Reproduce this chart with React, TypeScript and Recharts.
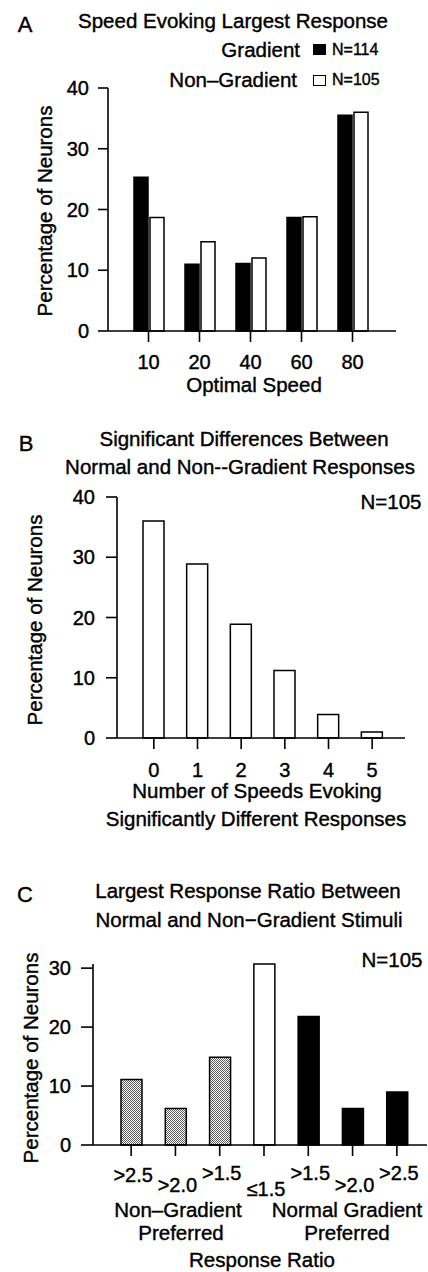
import React from 'react';
import { BarChart, Bar, XAxis, YAxis, Cell } from 'recharts';

const FONT = '"Liberation Sans", Arial, Helvetica, sans-serif';

// Panel A
const speedCategories = ['10', '20', '40', '60', '80'];
const gradientValues = [25.3, 11.0, 11.1, 18.7, 35.5];
const nonGradientValues = [18.7, 14.7, 12.0, 18.8, 36.0];
const speedTicks = [0, 10, 20, 30, 40];

// Panel B
const diffCategories = ['0', '1', '2', '3', '4', '5'];
const diffValues = [36.0, 28.9, 18.9, 11.2, 3.9, 1.0];
const diffTicks = [0, 10, 20, 30, 40];

// Panel C
const ratioIds = ['ng25', 'ng20', 'ng15', 'eq15', 'n15', 'n20', 'n25'];
const ratioLabels = ['>2.5', '>2.0', '>1.5', '≤1.5', '>1.5', '>2.0', '>2.5'];
const ratioValues = [11.1, 6.2, 14.9, 30.7, 21.8, 6.2, 9.0];
const ratioGroups = ['non', 'non', 'non', 'equal', 'normal', 'normal', 'normal'];
const ratioTicks = [0, 10, 20, 30];
const ratioLabelOffsets = [26, 36, 24, 40, 24, 36, 24];

const speedData = speedCategories.map((c, i) => ({
  speed: c,
  gradient: gradientValues[i],
  nonGradient: nonGradientValues[i],
}));
const diffData = diffCategories.map((c, i) => ({ n: c, value: diffValues[i] }));
const ratioData = ratioIds.map((id, i) => ({ id, value: ratioValues[i], group: ratioGroups[i] }));

const groupFill: Record<string, string> = {
  non: 'url(#stipple)',
  equal: '#ffffff',
  normal: '#000000',
};

type TProps = {
  x: number;
  y: number;
  children: React.ReactNode;
  size?: number;
  anchor?: 'start' | 'middle' | 'end';
  rotate?: boolean;
};

function T({ x, y, children, size = 20.5, anchor = 'middle', rotate = false }: TProps) {
  const tx = anchor === 'middle' ? '-50%' : anchor === 'end' ? '-100%' : '0';
  return (
    <div
      style={{
        position: 'absolute',
        left: x,
        top: y,
        transform: `translate(${tx}, -50%)${rotate ? ' rotate(-90deg)' : ''}`,
        fontFamily: FONT,
        fontSize: size,
        lineHeight: 1,
        whiteSpace: 'nowrap',
        color: '#000',
        WebkitTextStroke: '0.4px #000',
      }}
    >
      {children}
    </div>
  );
}

const axisStroke = { stroke: '#000', strokeWidth: 1.6 };
const tickStyle = { fill: '#000', fontSize: 20, fontFamily: FONT, stroke: '#000', strokeWidth: 0.4 };

function RatioTick(props: any) {
  const { x, y, payload } = props;
  const idx = ratioIds.indexOf(payload.value);
  return (
    <text
      x={x + 2}
      y={y + ratioLabelOffsets[idx]}
      textAnchor="middle"
      fontSize={20}
      fontFamily={FONT}
      fill="#000"
      stroke="#000"
      strokeWidth={0.4}
    >
      {ratioLabels[idx]}
    </text>
  );
}

export default function App() {
  return (
    <div
      style={{
        position: 'absolute',
        left: 0,
        top: 0,
        width: 428,
        height: 1272,
        background: '#fff',
        overflow: 'hidden',
      }}
    >
      {/* Panel A */}
      <T x={25} y={25} size={22}>A</T>
      <T x={233} y={21}>Speed Evoking Largest Response</T>
      <T x={300} y={50} anchor="end">Gradient</T>
      <div style={{ position: 'absolute', left: 313, top: 44, width: 13, height: 11, background: '#000', border: '1px solid #000', boxSizing: 'border-box' }} />
      <T x={332} y={50} anchor="start" size={16}>N=114</T>
      <T x={297} y={80} anchor="end">Non–Gradient</T>
      <div style={{ position: 'absolute', left: 313, top: 75, width: 13, height: 11, background: '#fff', border: '1.5px solid #000', boxSizing: 'border-box' }} />
      <T x={332} y={80} anchor="start" size={16}>N=105</T>
      <T x={45} y={211} rotate>Percentage of Neurons</T>
      <T x={254} y={385}>Optimal Speed</T>
      <div style={{ position: 'absolute', left: 0, top: 0 }}>
        <BarChart
          width={428}
          height={400}
          data={speedData}
          margin={{ top: 88, right: 32, bottom: 39, left: 48 }}
          barSize={14}
          barGap={2}
        >
          <XAxis
            dataKey="speed"
            axisLine={axisStroke}
            tickLine={axisStroke}
            tickSize={11}
            tickMargin={13}
            tick={tickStyle}
            padding={{ left: 15, right: 18 }}
            interval={0}
            height={30}
          />
          <YAxis
            domain={[0, 40]}
            ticks={speedTicks}
            axisLine={axisStroke}
            tickLine={axisStroke}
            tickSize={10}
            tickMargin={9}
            tick={tickStyle}
            width={60}
            interval={0}
          />
          <Bar dataKey="gradient" fill="#000" stroke="#000" strokeWidth={1.5} isAnimationActive={false} />
          <Bar dataKey="nonGradient" fill="#fff" stroke="#000" strokeWidth={1.5} isAnimationActive={false} />
        </BarChart>
      </div>

      {/* Panel B */}
      <T x={26} y={444} size={22}>B</T>
      <T x={244} y={439}>Significant Differences Between</T>
      <T x={240} y={467}>Normal and Non--Gradient Responses</T>
      <T x={391} y={502}>N=105</T>
      <T x={35} y={620} rotate>Percentage of Neurons</T>
      <T x={257} y={791}>Number of Speeds Evoking</T>
      <T x={256} y={819}>Significantly Different Responses</T>
      <div style={{ position: 'absolute', left: 0, top: 400 }}>
        <BarChart
          width={428}
          height={380}
          data={diffData}
          margin={{ top: 97, right: 23, bottom: 12, left: 57 }}
          barSize={21}
        >
          <XAxis
            dataKey="n"
            axisLine={axisStroke}
            tickLine={axisStroke}
            tickSize={11}
            tickMargin={14}
            tick={tickStyle}
            padding={{ left: 15, right: 11 }}
            interval={0}
            height={30}
          />
          <YAxis
            domain={[0, 40]}
            ticks={diffTicks}
            axisLine={axisStroke}
            tickLine={axisStroke}
            tickSize={11}
            tickMargin={11}
            tick={tickStyle}
            width={60}
            interval={0}
          />
          <Bar dataKey="value" fill="#fff" stroke="#000" strokeWidth={1.5} isAnimationActive={false} />
        </BarChart>
      </div>

      {/* Panel C */}
      <T x={25} y={895} size={22}>C</T>
      <T x={248} y={891}>Largest Response Ratio Between</T>
      <T x={249} y={920}>Normal and Non−Gradient Stimuli</T>
      <T x={392} y={960}>N=105</T>
      <T x={31} y={1058} rotate>Percentage of Neurons</T>
      <T x={178} y={1210}>Non–Gradient</T>
      <T x={181} y={1233}>Preferred</T>
      <T x={347} y={1210}>Normal Gradient</T>
      <T x={347} y={1233}>Preferred</T>
      <T x={262} y={1260}>Response Ratio</T>
      <div style={{ position: 'absolute', left: 0, top: 780 }}>
        <BarChart
          width={428}
          height={492}
          data={ratioData}
          margin={{ top: 184, right: 1, bottom: 97, left: 33 }}
          barSize={21}
        >
          <defs>
            <pattern id="stipple" patternUnits="userSpaceOnUse" width={2} height={2}>
              <rect x={0} y={0} width={2} height={2} fill="#ffffff" />
              <rect x={0} y={0} width={1} height={1} fill="#5a5a5a" />
              <rect x={1} y={1} width={1} height={1} fill="#5a5a5a" />
            </pattern>
          </defs>
          <XAxis
            dataKey="id"
            axisLine={axisStroke}
            tickLine={axisStroke}
            tickSize={11}
            tickMargin={0}
            tick={<RatioTick />}
            padding={{ left: 16, right: 8 }}
            interval={0}
            height={30}
          />
          <YAxis
            domain={[0, 30]}
            ticks={ratioTicks}
            axisLine={axisStroke}
            tickLine={axisStroke}
            tickSize={12}
            tickMargin={10}
            tick={tickStyle}
            width={60}
            interval={0}
          />
          <Bar dataKey="value" stroke="#000" strokeWidth={1.5} isAnimationActive={false}>
            {ratioData.map((d) => (
              <Cell key={d.id} fill={groupFill[d.group]} />
            ))}
          </Bar>
        </BarChart>
      </div>
    </div>
  );
}
